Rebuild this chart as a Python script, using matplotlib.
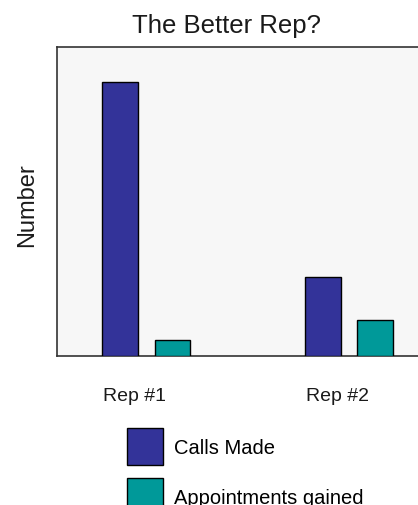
import numpy as np
import matplotlib
matplotlib.use("Agg")
import matplotlib.pyplot as plt
from matplotlib.patches import Patch

plt.rcParams['font.family'] = ['Liberation Sans', 'DejaVu Sans']

reps = ["Rep #1", "Rep #2"]
calls_made = [100, 29]
appointments = [6, 13]
series_names = ["Calls Made", "Appointments gained"]
colors = ["#333399", "#009999"]

W, H = 418, 506
fig = plt.figure(figsize=(W / 100, H / 100), dpi=100)
fig.patch.set_facecolor("white")

# axes runs off the right edge of the figure
ax = fig.add_axes([56.5 / W, (H - 357) / H, (439 - 56.5) / W, (357 - 48) / H])
ax.set_facecolor("#f7f7f7")

x = np.arange(len(reps))
width = 0.177
off = 0.129
ax.bar(x - off, calls_made, width, color=colors[0], edgecolor="black", linewidth=1, zorder=3)
ax.bar(x + off, appointments, width, color=colors[1], edgecolor="black", linewidth=1, zorder=3)

ax.set_xlim(-0.443, 1.443)
ax.set_ylim(0, 112.8)
ax.set_yticks([])
ax.set_xticks(x - 0.058)
ax.set_xticklabels(reps, fontsize=14, color="#1a1a1a")
ax.tick_params(axis="x", length=0, pad=22.5)
for s in ax.spines.values():
    s.set_color("#333333")
    s.set_linewidth(1.2)

fig.text(226.7 / W, 1 - 33 / H, "The Better Rep?", fontsize=18.5, ha="center", va="baseline", color="#1a1a1a")
fig.text(27.5 / W, 1 - 205.5 / H, "Number", fontsize=17, rotation=90, ha="center", va="center", color="#1a1a1a")

handles = [Patch(facecolor=c, edgecolor="black", linewidth=1) for c in colors]
fig.legend(handles, series_names, loc="upper left", bbox_to_anchor=(127 / W, 1 - 429 / H),
           frameon=False, borderpad=0, borderaxespad=0, fontsize=14.5,
           handlelength=1.79, handleheight=2.45, labelspacing=0.65, handletextpad=0.55)

fig.savefig("out.png", dpi=100)
